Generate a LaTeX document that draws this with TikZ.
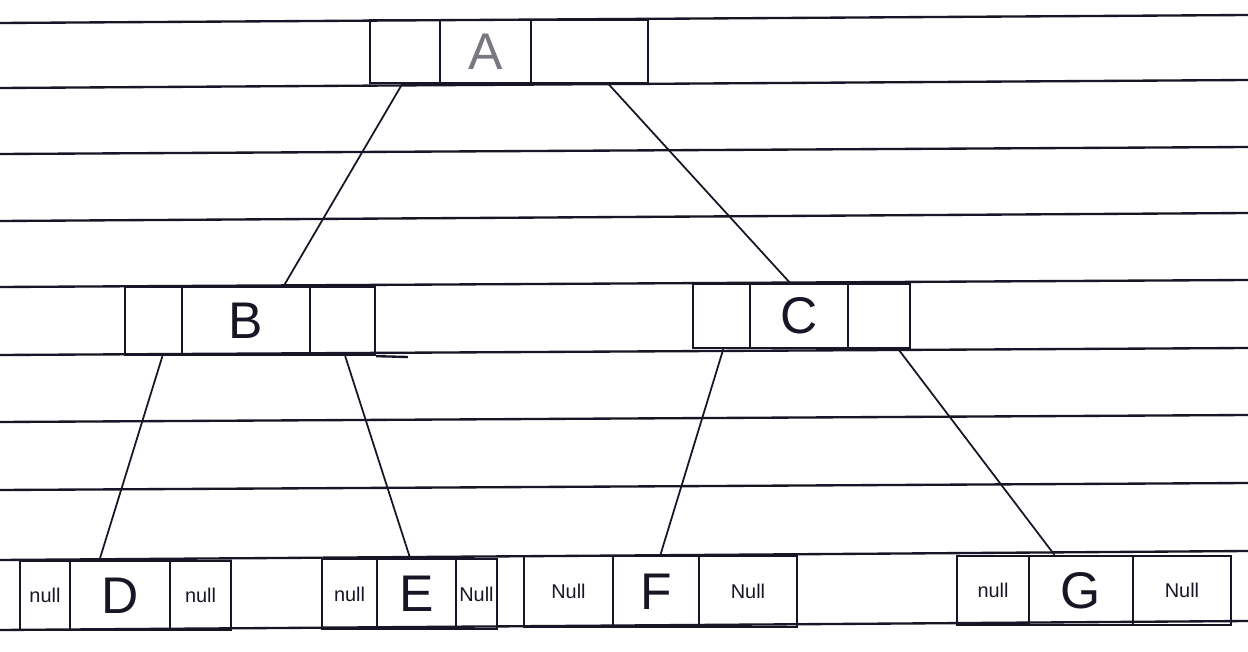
\documentclass[tikz,border=0pt]{standalone}
\usepackage{fontspec}
\setmainfont{Liberation Sans}
\usetikzlibrary{calc,fit}
\definecolor{ink}{RGB}{22,22,38}
\definecolor{pencil}{RGB}{120,120,130}
\begin{document}
\begin{tikzpicture}[x=0.03cm,y=-0.03cm,
  rule/.style={draw=ink, line width=2pt},
  cell/.style={draw=ink, line width=2pt, inner sep=0pt, rectangle},
  link/.style={draw=ink, line width=1.5pt},
  key/.style={font=\fontsize{44}{44}\selectfont, text=ink, inner sep=0pt},
  nul/.style={font=\fontsize{17}{17}\selectfont, text=ink, inner sep=0pt}]
\useasboundingbox[fill=white] (0,0) rectangle (1248,652);

% ruled paper
\foreach \l/\r in {23/15, 88/80, 154/147, 221/213, 287/280,
                   355/348, 422/415, 490/483, 560/551, 630/621}
  \draw[rule] (0,\l) -- (1248,\r);

% root
\node[cell, fit={(370,20) (440,83)}] (A1) {};
\node[cell, fit={(440,20) (531,83)}, label={[key, text=pencil]center:A}] (A2) {};
\node[cell, fit={(531,20) (648,83)}] (A3) {};

% level 1
\node[cell, fit={(125,287) (182,355)}] (B1) {};
\node[cell, fit={(182,287) (310,355)}, label={[key]center:B}] (B2) {};
\node[cell, fit={(310,287) (375,355)}] (B3) {};
\coordinate (Bt) at (408,357);
\draw[cell] (B3.south east) -- (Bt);

\node[cell, fit={(693,284) (750,348)}] (C1) {};
\node[cell, fit={(750,284) (848,348)}, label={[key]center:C}] (C2) {};
\node[cell, fit={(848,284) (910,348)}] (C3) {};

% leaves
\node[cell, fit={(20,561) (70,630)}, label={[nul]center:null}] (D1) {};
\node[cell, fit={(70,561) (170,630)}, label={[key]center:D}] (D2) {};
\node[cell, fit={(170,561) (231,630)}, label={[nul]center:null}] (D3) {};

\node[cell, fit={(322,559) (377,629)}, label={[nul]center:null}] (E1) {};
\node[cell, fit={(377,559) (456,629)}, label={[key]center:E}] (E2) {};
\node[cell, fit={(456,559) (497,629)}, label={[nul]center:Null}] (E3) {};

\node[cell, fit={(524,556) (613,627)}, label={[nul]center:Null}] (F1) {};
\node[cell, fit={(613,556) (699,627)}, label={[key]center:F}] (F2) {};
\node[cell, fit={(699,556) (797,627)}, label={[nul]center:Null}] (F3) {};

\node[cell, fit={(957,556) (1029,625)}, label={[nul]center:null}] (G1) {};
\node[cell, fit={(1029,556) (1133,625)}, label={[key]center:G}] (G2) {};
\node[cell, fit={(1133,556) (1231,625)}, label={[nul]center:Null}] (G3) {};

% child pointers
\draw[link] ($(A1.south west)!0.46!(A1.south east)$) -- ($(B2.north west)!0.79!(B2.north east)$);
\draw[link] ($(A3.south west)!0.66!(A3.south east)$) -- ($(C2.north west)!0.41!(C2.north east)$);
\draw[link] ($(B1.south west)!0.65!(B1.south east)$) -- ($(D2.north west)!0.30!(D2.north east)$);
\draw[link] ($(B3.south west)!0.54!(B3.south east)$) -- ($(E2.north west)!0.42!(E2.north east)$);
\draw[link] ($(C1.south west)!0.53!(C1.south east)$) -- ($(F2.north west)!0.55!(F2.north east)$);
\draw[link] ($(C3.south west)!0.80!(C3.south east)$) -- ($(G2.north west)!0.25!(G2.north east)$);
\end{tikzpicture}
\end{document}
